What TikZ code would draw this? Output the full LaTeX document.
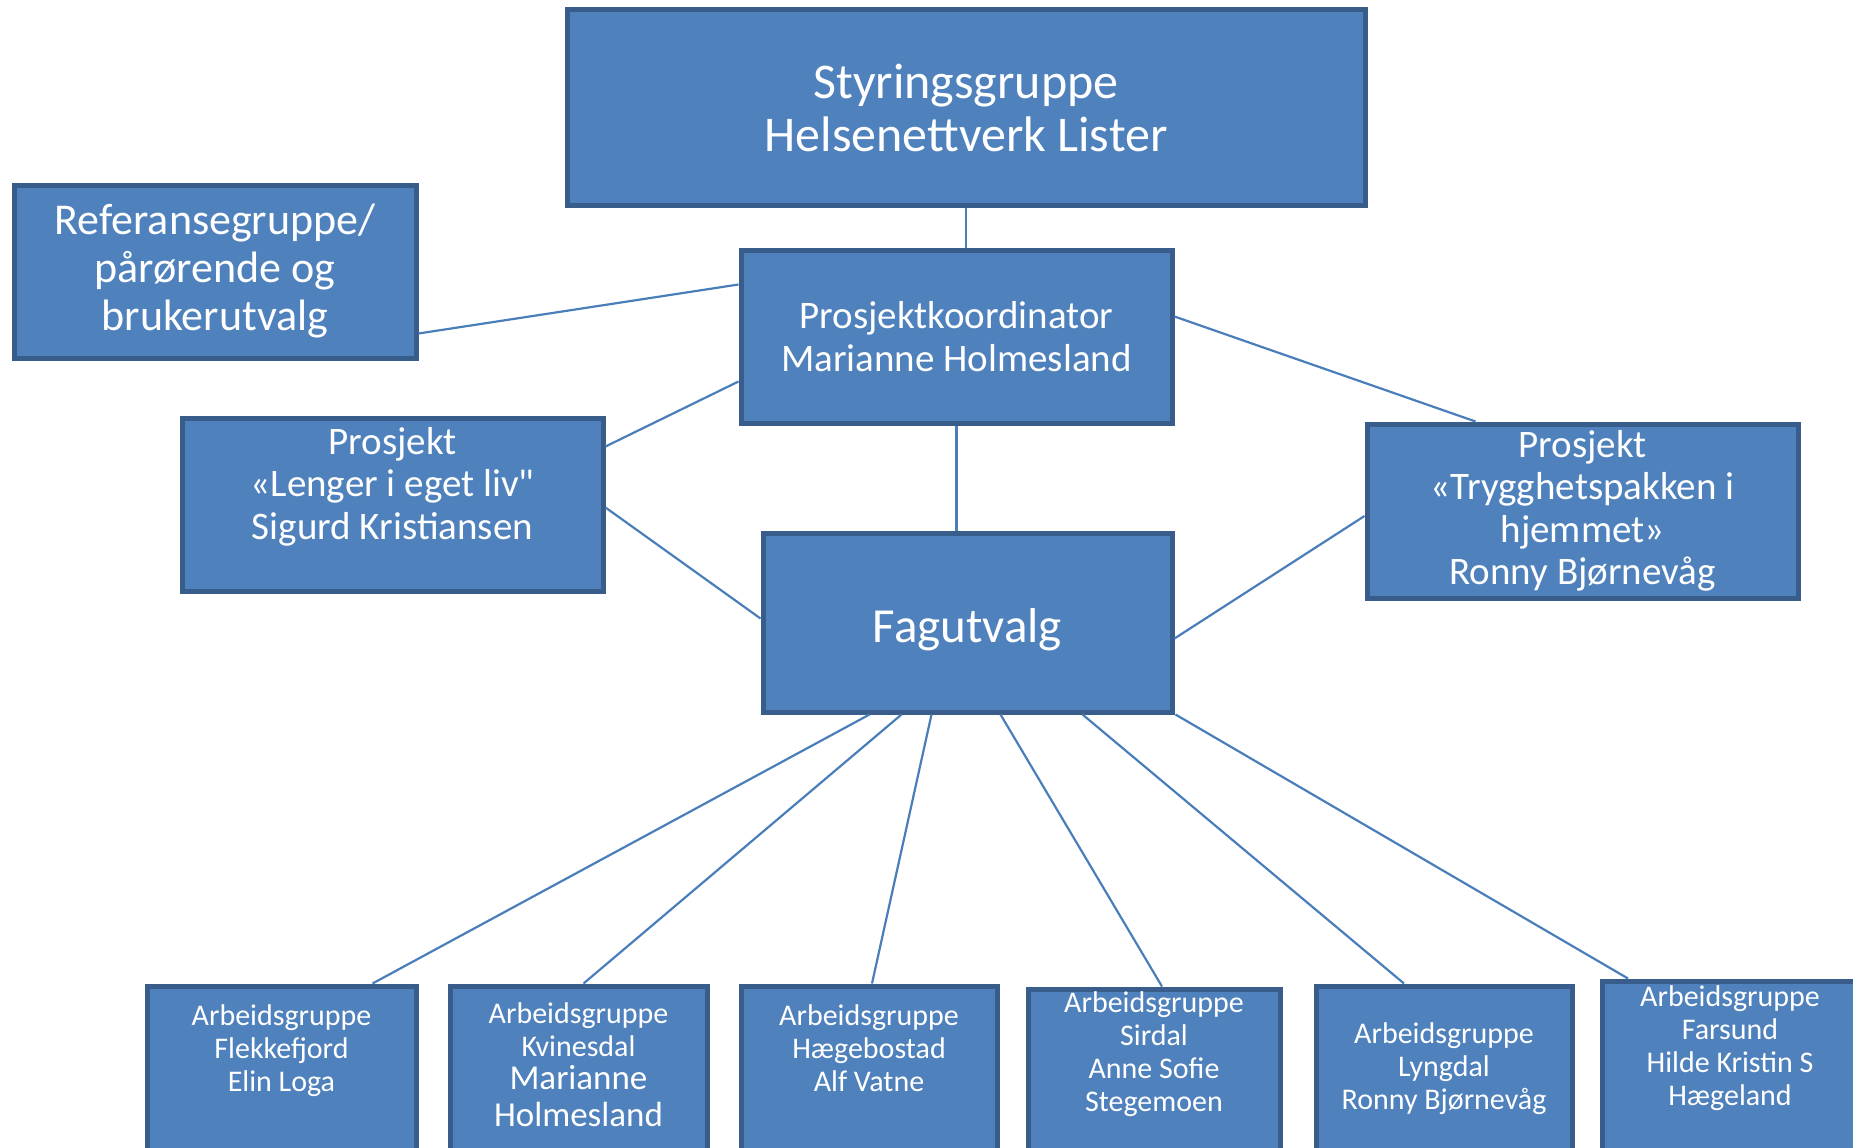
\documentclass[tikz,border=0pt]{standalone}
\usepackage{fontspec}
\setmainfont{Carlito}[Ligatures=TeXOff]
\usetikzlibrary{positioning}
\definecolor{boxfill}{HTML}{4F81BD}
\definecolor{boxline}{HTML}{385D8A}
\definecolor{linkline}{HTML}{4A7EBB}
\begin{document}
\begin{tikzpicture}[x=1pt,y=-1pt,
    box/.style={draw=boxline,fill=boxfill,line width=5pt,text=white,align=center,inner sep=0pt},
    wtext/.style={text=white,align=center,inner sep=0pt,font=\fontsize{30}{33}\selectfont},
    link/.style={draw=linkline,line width=2.2pt}]
    \path[use as bounding box] (0,0) rectangle (1853,1148);
    \clip (0,0) rectangle (1853,1148);
    \node[box,minimum width=798pt,minimum height=195pt,font=\fontsize{50}{53}\selectfont] (styr) at (966,107.5) {Styringsgruppe\\Helsenettverk Lister};
    \node[box,minimum width=402pt,minimum height=173pt,font=\fontsize{44}{48}\selectfont] (ref) at (215,271.5) {Referansegruppe/\\pårørende og\\brukerutvalg};
    \node[box,minimum width=431pt,minimum height=173pt,font=\fontsize{39}{42.5}\selectfont] (koord) at (956.5,336.5) {Prosjektkoordinator\\Marianne Holmesland};
    \node[box,minimum width=421pt,minimum height=173pt,font=\fontsize{39}{42.5}\selectfont] (lenger) at (392.5,504.5) {Prosjekt\\«Lenger i eget liv"\\Sigurd Kristiansen\\\mbox{}};
    \node[box,minimum width=431pt,minimum height=174pt,font=\fontsize{39}{42.5}\selectfont] (trygg) at (1582.5,511) {Prosjekt\\«Trygghetspakken i\\hjemmet»\\Ronny Bjørnevåg};
    \node[box,minimum width=409pt,minimum height=179pt,font=\fontsize{49}{53}\selectfont] (fag) at (967.5,622.5) {\raisebox{-20pt}[0pt][0pt]{Fagutvalg}};

    \begin{scope}[every node/.style={box,anchor=north,minimum height=300pt}]
    \node[minimum width=269pt] (b1) at (281.5,983.5) {};
    \node[minimum width=257pt] (b2) at (578.5,983.5) {};
    \node[minimum width=256pt] (b3) at (869,983.5) {};
    \node[minimum width=252pt] (b4) at (1154,986.5) {};
    \node[minimum width=256pt] (b5) at (1444,983.5) {};
    \node[minimum width=256pt] (b6) at (1730,978.5) {};
    \end{scope}

    \node[wtext,below=21pt of b1.north] (t1) {Arbeidsgruppe\\Flekkefjord\\Elin Loga};
    \node[wtext,below=19pt of b2.north] (t2) {Arbeidsgruppe\\Kvinesdal\\{\fontsize{35}{37}\selectfont Marianne}\\[4pt]{\fontsize{35}{37}\selectfont Holmesland}};
    \node[wtext,below=21pt of b3.north] (t3) {Arbeidsgruppe\\Hægebostad\\Alf Vatne};
    \node[wtext,below=5pt of b4.north] (t4) {Arbeidsgruppe\\Sirdal\\Anne Sofie\\Stegemoen};
    \node[wtext,below=39pt of b5.north] (t5) {Arbeidsgruppe\\Lyngdal\\Ronny Bjørnevåg};
    \node[wtext,below=7pt of b6.north] (t6) {Arbeidsgruppe\\Farsund\\Hilde Kristin S\\Hægeland};

    \begin{scope}[every path/.style={link}]
    \path (styr.south) edge (styr.south |- koord.north)
          ([yshift=-62pt]ref.east) edge ([yshift=52pt]koord.west)
          ([yshift=-45pt]koord.west) edge ([yshift=58pt]lenger.east)
          (koord.south) edge (koord.south |- fag.north)
          ([yshift=20pt]koord.east) edge ([xshift=-107pt]trygg.north)
          ([yshift=-3pt]lenger.east) edge ([yshift=4pt]fag.west)
          ([yshift=-5pt]trygg.west) edge ([yshift=-16pt]fag.east)
          ([xshift=-98pt]fag.south) edge ([xshift=91pt]b1.north)
          ([xshift=-66pt]fag.south) edge ([xshift=5pt]b2.north)
          ([xshift=-36pt]fag.south) edge ([xshift=3pt]b3.north)
          ([xshift=33pt]fag.south) edge ([xshift=8pt]b4.north)
          ([xshift=115pt]fag.south) edge ([xshift=-40pt]b5.north)
          ([xshift=208pt]fag.south) edge ([xshift=-102pt]b6.north);
    \end{scope}
\end{tikzpicture}
\end{document}
